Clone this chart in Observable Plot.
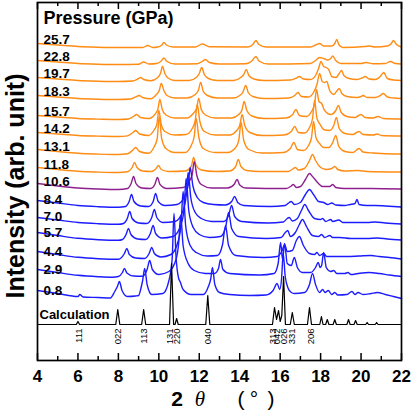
<!DOCTYPE html>
<html><head><meta charset="utf-8">
<script src="https://cdn.jsdelivr.net/npm/d3@7"></script>
<script src="https://cdn.jsdelivr.net/npm/@observablehq/plot@0.6"></script>
<style>body{margin:0;background:#fff}#chart{width:412px;height:412px}</style>
</head><body><div id="chart"></div>
<script>
// Pressures (GPa), top to bottom, and stacking offsets (arb. unit)
const pressures = ["25.7","22.8","19.7","18.3","15.7","14.2","13.1","11.8","10.6","8.4","7.0","5.7","4.4","2.9","0.8"];
const offsets   = [313, 296, 279, 261, 241, 224, 206, 188, 171, 153, 136, 120, 101, 83, 62];
const calcOffset = 36;

// Patterns: [2theta, intensity above baseline]
const p25_7 = [[4,4],[5,2.5],[6,1],[7,0.3],[8,0],[9.2,0],[9.45,2],[9.7,0],[9.95,0.5],[10.15,2.5],[10.25,5],[10.38,2.5],[10.7,0.5],[11.8,0.5],[12.15,3.5],[12.5,0.8],[14.4,0.5],[14.65,3],[14.8,7],[14.95,3],[15.3,0.5],[17.5,0.5],[17.8,3],[17.95,4],[18.15,1.5],[18.55,1.5],[18.7,4],[18.8,8],[18.9,3],[19.1,0],[20.2,1],[20.4,1.5],[20.7,0.5],[21.3,1.5],[21.5,4],[21.6,7],[21.75,3],[22,0.5]];
const p22_8 = [[4,4],[5,2.5],[6,1],[7,0.3],[8,0],[9.0,0.3],[9.25,2.5],[9.5,0.5],[9.9,1],[10.12,3.5],[10.25,6.5],[10.4,3],[10.8,0.5],[11.9,0.8],[12.15,3],[12.3,5],[12.5,2],[13,0.5],[14.3,0.8],[14.6,3.5],[14.8,8],[14.95,3.5],[15.4,0.5],[17.5,1],[17.75,4],[17.95,7],[18.15,6],[18.35,4.5],[18.5,6],[18.6,8.5],[18.75,4],[19.0,1],[20.0,1],[20.25,2],[20.6,0.8],[21.2,1],[21.45,3],[21.7,1],[22,0.5]];
const p19_7 = [[4,4],[5,2.5],[6,1],[7,0.3],[8,0],[8.7,0.5],[9.0,3],[9.1,4],[9.25,2],[9.6,0.8],[9.95,4],[10.08,8],[10.18,15],[10.3,8],[10.45,3.5],[10.8,1],[11.5,1],[11.85,4],[12.0,8],[12.12,14],[12.25,7],[12.45,3],[12.9,1],[13.7,1],[14.05,4],[14.2,7],[14.33,12],[14.45,6],[14.7,2.5],[15.2,1],[16.5,1.5],[16.8,3.5],[16.95,5],[17.15,2.5],[17.5,2],[17.75,6],[17.9,13],[18.02,20],[18.15,15],[18.28,14],[18.4,12],[18.55,5],[18.75,4],[18.92,8],[19.03,11],[19.15,6],[19.4,3],[19.8,2],[20.05,3.5],[20.2,5],[20.4,2.5],[20.7,2],[20.95,5],[21.12,9],[21.3,3],[21.6,1.5],[22,1]];
const p18_3 = [[4,4],[5,2.5],[6,1],[7,0.3],[8,0],[8.6,0.5],[8.9,3],[9.02,4],[9.2,2],[9.6,0.8],[9.88,5],[10.02,9],[10.12,16],[10.25,9],[10.4,4],[10.8,1.5],[11.4,1.5],[11.8,5],[11.95,9],[12.07,17],[12.2,8],[12.4,4],[12.9,1.5],[13.7,1.5],[14.0,4],[14.15,7],[14.3,14],[14.42,7],[14.65,3],[15.2,1],[16.4,1.5],[16.72,4],[16.88,7],[17.05,3],[17.4,2.5],[17.65,7],[17.82,15],[17.95,26],[18.08,18],[18.2,17],[18.3,18],[18.45,9],[18.65,5],[18.82,9],[18.92,11],[19.05,6],[19.3,3],[19.8,2],[20.0,3],[20.1,4],[20.3,2],[20.7,2],[20.95,4],[21.1,6],[21.3,2.5],[21.6,1.5],[22,1]];
const p15_7 = [[4,4],[5,2.5],[6,1],[7,0.4],[8,0],[8.5,0.5],[8.78,3.5],[8.9,5],[9.1,2],[9.5,1],[9.8,5],[9.95,10],[10.05,20],[10.17,10],[10.35,4.5],[10.8,1.5],[11.4,1.5],[11.7,6],[11.87,11],[11.97,21],[12.1,10],[12.3,4.5],[12.8,1.5],[13.6,1.5],[13.95,5],[14.1,9],[14.22,18],[14.35,9],[14.6,3.5],[15.2,1],[16.3,1.5],[16.62,5],[16.78,10],[16.95,4],[17.3,3],[17.55,8],[17.7,15],[17.8,30],[17.92,18],[18.05,16],[18.2,9],[18.5,5],[18.75,9],[18.88,14],[19.02,7],[19.3,3],[19.7,2],[19.88,4],[20.0,5],[20.2,2],[20.6,1.5],[20.85,3],[21.1,1],[22,0.5]];
const p14_2 = [[4,4],[5,2.5],[6,1],[7,0.4],[8,0],[8.45,0.6],[8.72,4],[8.85,6],[9.05,2.5],[9.5,1],[9.75,6],[9.9,12],[10.0,26],[10.12,12],[10.3,5],[10.8,1.5],[11.35,2],[11.65,8],[11.8,16],[11.9,32],[12.03,15],[12.25,5],[12.8,1.5],[13.5,1.5],[13.85,6],[14.0,11],[14.12,22],[14.25,11],[14.5,4],[15.1,1],[16.2,1.5],[16.55,5],[16.72,10],[16.9,4],[17.2,3.5],[17.45,9],[17.6,18],[17.7,36],[17.82,18],[17.98,12],[18.15,7],[18.45,6],[18.65,11],[18.78,19],[18.92,8],[19.2,3],[19.6,2],[19.78,4],[19.9,5],[20.1,2],[20.6,1.5],[20.8,2.5],[21.0,1],[22,0.5]];
const p13_1 = [[4,5],[5,3],[6,1.2],[7,0.4],[8,0],[8.45,0.7],[8.72,4.5],[8.85,7],[9.05,3],[9.5,1.2],[9.75,7],[9.92,16],[10.02,38],[10.14,16],[10.35,6],[10.8,2],[11.3,2],[11.6,9],[11.75,18],[11.85,36],[11.98,17],[12.2,6],[12.8,2],[13.4,2],[13.8,7],[13.95,14],[14.07,32],[14.2,14],[14.45,5],[15.1,1.5],[16.15,2],[16.5,6],[16.68,12],[16.85,5],[17.15,4],[17.4,9],[17.55,17],[17.65,33],[17.77,17],[17.95,11],[18.15,7],[18.4,7],[18.6,12],[18.75,19],[18.9,8],[19.2,3],[19.6,2],[19.78,4.5],[19.9,6],[20.1,2.5],[20.6,1.5],[21,1],[22,0.5]];
const p11_8 = [[4,5],[5,3],[6,1.2],[7,0.4],[8,0],[8.45,0.8],[8.68,5],[8.8,10],[8.92,5],[9.2,1.5],[9.6,1],[9.85,3.5],[9.98,7],[10.12,3],[10.5,1],[11.3,1.5],[11.6,6],[11.72,15],[11.85,7],[12.1,2.5],[12.8,1],[13.5,1.5],[13.8,6],[13.93,13],[14.06,6],[14.35,2],[15.0,1],[16.4,1],[16.62,3.5],[16.75,5],[16.9,2.5],[17.2,4],[17.45,12],[17.6,18],[17.75,12],[17.95,6],[18.25,3],[18.55,4],[18.7,6],[18.85,3],[19.2,1.5],[19.85,2],[20.3,1],[22,0.5]];
const p10_6 = [[4,6],[5,3.5],[6,1.5],[7,0.5],[8,0],[8.45,1],[8.63,6],[8.75,13],[8.87,6],[9.15,1.5],[9.6,1],[9.8,5],[9.93,12],[10.06,5],[10.4,1],[11.2,2],[11.5,8],[11.65,15],[11.75,28],[11.88,14],[12.1,5],[12.6,1.5],[13.4,1.5],[13.72,5],[13.87,10],[14.0,4.5],[14.3,1.5],[16.3,1],[16.55,3.5],[16.65,5],[16.8,2],[17.0,3],[17.25,10],[17.45,16],[17.6,13],[17.85,7],[18.1,3],[18.45,3],[18.6,5],[18.75,2],[19.2,1],[20.5,1],[22,0.5]];
const p8_4 = [[4,7],[5,4.5],[6,2],[7,0.8],[8,0.2],[8.35,1],[8.53,6],[8.65,13],[8.77,6],[9.1,1.5],[9.5,1],[9.72,6],[9.84,14],[9.97,6],[10.3,2],[10.9,3],[11.3,12],[11.45,22],[11.55,40],[11.68,22],[11.9,10],[12.2,5],[12.7,3],[13.3,2.5],[13.6,6],[13.75,11],[13.9,5],[14.2,2],[15.5,1],[16.25,2],[16.45,5],[16.55,6],[16.7,3],[17.0,5],[17.25,13],[17.45,18],[17.65,13],[17.9,6],[18.15,5],[18.35,3],[18.55,4.5],[18.75,2.5],[19.2,2],[19.45,3],[19.7,4],[19.8,8],[19.9,3],[20.3,2],[20.7,2],[21.2,1.5],[22,0.5]];
const p7_0 = [[4,7],[5,4.5],[6,2],[7,0.8],[8,0.2],[8.25,1],[8.44,6],[8.56,13],[8.68,6],[9.0,1.5],[9.4,1],[9.65,7],[9.78,15],[9.9,7],[10.2,2],[10.8,3],[11.2,14],[11.35,28],[11.45,52],[11.58,27],[11.8,12],[12.1,6],[12.6,3],[13.2,3],[13.45,9],[13.6,19],[13.75,8],[14.1,3],[15.4,1.5],[16.15,2.5],[16.35,6],[16.45,7],[16.6,3.5],[16.85,6],[17.05,14],[17.22,20],[17.4,14],[17.7,6],[18.0,5],[18.1,6],[18.25,3],[18.5,5],[18.6,3],[18.9,4.5],[19.1,2],[19.5,2],[20.3,2],[20.7,2.5],[21.2,1.5],[22,0.5]];
const p5_7 = [[4,8],[5,5],[6,2.2],[7,0.8],[8,0.2],[8.2,1],[8.38,6],[8.5,12],[8.62,6],[8.95,1.5],[9.35,1],[9.58,7],[9.72,15],[9.84,7],[10.15,2.5],[10.7,4],[11.1,16],[11.25,32],[11.35,62],[11.48,30],[11.7,13],[12.0,6],[12.5,3],[13.05,4],[13.3,13],[13.45,28],[13.6,12],[13.95,4],[15.3,2],[16.05,3],[16.25,8],[16.38,10],[16.5,4],[16.75,8],[16.95,16],[17.1,21],[17.3,14],[17.6,5],[17.9,4],[18.05,6],[18.2,3],[18.45,5],[18.6,3],[18.95,3],[19.5,2],[20.3,2],[20.8,2.5],[21.3,1.5],[22,0.5]];
const p4_4 = [[4,8],[5,5],[6,2.2],[7,0.8],[8,0.2],[8.1,1],[8.3,6],[8.42,11],[8.54,5],[8.85,1.5],[9.3,1],[9.52,6],[9.65,12],[9.78,6],[10.1,2.5],[10.6,5],[10.95,18],[11.1,35],[11.2,68],[11.33,33],[11.55,14],[11.85,7],[12.4,3.5],[12.9,4],[13.15,15],[13.3,34],[13.45,14],[13.8,4],[15.2,2],[15.85,3],[16.1,9],[16.22,15],[16.35,8],[16.6,9],[16.8,19],[16.95,23],[17.15,14],[17.45,6],[17.7,5],[17.82,7],[17.95,4],[18.15,6],[18.3,3],[18.7,3],[19.3,3],[19.9,3.5],[20.5,4],[20.9,3],[21.4,2],[22,0.5]];
const p2_9 = [[4,8],[5,5],[6,2.2],[7,0.8],[7.7,0.3],[8.0,1],[8.2,5],[8.3,9],[8.42,4.5],[8.75,1.5],[9.2,1.2],[9.42,8],[9.55,17],[9.68,8],[10.0,3],[10.5,6],[10.85,18],[10.98,34],[11.08,62],[11.2,32],[11.45,14],[11.75,7],[12.3,4],[12.75,4],[12.95,9],[13.05,18],[13.17,8],[13.5,4],[15.0,2.5],[15.7,4],[15.9,14],[16.02,35],[16.12,18],[16.22,34],[16.35,14],[16.55,12],[16.7,20],[16.85,10],[17.1,5],[17.5,5],[17.75,10],[17.88,15],[17.98,10],[18.05,12],[18.15,25],[18.28,10],[18.5,6],[18.65,7],[18.8,4],[19.2,4],[19.35,5],[19.5,3],[19.85,4],[20.4,5],[20.9,4],[21.4,2.5],[22,1]];
const p0_8 = [[4,8],[5,5],[6,2],[6.1,4],[6.25,1.5],[7,1],[7.6,0.5],[7.82,7],[7.95,12],[8.05,17],[8.18,8],[8.45,2],[8.85,2.5],[9.0,3],[9.1,9],[9.2,18],[9.3,30],[9.42,14],[9.65,4],[10.2,5],[10.5,18],[10.66,40],[10.75,85],[10.85,42],[10.98,20],[11.05,17],[11.2,9],[11.6,4],[12.2,4],[12.45,12],[12.57,20],[12.65,31],[12.77,14],[13.0,6],[13.5,4],[14.5,3],[15.3,3.5],[15.65,8],[15.85,15],[15.98,9],[16.07,20],[16.15,45],[16.25,22],[16.4,10],[16.55,6],[16.7,5],[17.2,6],[17.45,14],[17.6,25],[17.75,14],[17.95,6],[18.1,9],[18.22,6],[18.38,8],[18.55,4],[18.7,6],[18.85,3.5],[19.3,4],[19.55,7],[19.7,4],[19.85,6],[20.1,4],[20.5,5],[20.8,6],[21.2,4],[21.6,2],[22,0]];
const calc = [[4,0],[5.92,0],[6.0,3],[6.08,0],[7.87,0],[7.97,15],[8.07,0],[9.15,0],[9.25,15],[9.35,0],[10.53,0],[10.63,61],[10.73,0],[10.8,0],[10.88,6],[10.96,0],[12.32,0],[12.42,29],[12.52,0],[15.62,0],[15.72,17],[15.82,5],[15.92,14],[16.0,3],[16.08,9],[16.17,48],[16.26,0],[16.5,0],[16.6,12],[16.7,0],[17.35,0],[17.45,17],[17.55,0],[17.96,0],[18.04,8],[18.12,0],[18.25,0],[18.33,5],[18.41,0],[18.62,0],[18.7,5],[18.78,0],[19.3,0],[19.38,5],[19.46,0],[19.65,0],[19.73,4],[19.81,0],[20.23,0],[20.3,2],[20.37,0],[20.7,0],[20.77,2],[20.84,0],[22,0]];
const curves = [p25_7,p22_8,p19_7,p18_3,p15_7,p14_2,p13_1,p11_8,p10_6,p8_4,p7_0,p5_7,p4_4,p2_9,p0_8];

// Calculated reflections (hkl) and their 2theta
const hklLabels = ["111","022","113","131","220","040","313","042","026","331","206"];
const hklPos    = [6.03, 7.97, 9.25, 10.53, 10.9, 12.42, 15.62, 15.86, 16.2, 16.6, 17.5];

const majorTicks = [4,6,8,10,12,14,16,18,20,22];
const minorTicks = [5,7,9,11,13,15,17,19,21];

const ORANGE = "#ff8c14", PURPLE = "#8e1f8e", BLUE = "#1c1cff";
const colorOf = p => (+p > 11 ? ORANGE : (+p > 10 ? PURPLE : BLUE));
const FONT = "'Liberation Sans', Arial, sans-serif";

const lineMarks = curves.map((c, i) => Plot.line(c, {
  x: d => d[0], y: d => offsets[i] + d[1],
  stroke: colorOf(pressures[i]), strokeWidth: 1.4, curve: "monotone-x"
}));

const labelData = pressures.map((p, i) => ({p, y: offsets[i]}));
const hklData = hklLabels.map((h, i) => ({h, x: hklPos[i]}));

const plot = Plot.plot({
  width: 412, height: 412,
  marginLeft: 37, marginRight: 11, marginTop: 2, marginBottom: 52,
  style: {fontFamily: FONT, background: "#fff", color: "#000"},
  x: {domain: [4, 22]},
  y: {domain: [0, 358], axis: null},
  marks: [
    ...lineMarks,
    Plot.line(calc, {x: d => d[0], y: d => calcOffset + d[1], stroke: "#000", strokeWidth: 1.2}),
    Plot.text(labelData, {x: 4, y: "y", text: "p", dx: 6, dy: -4, textAnchor: "start", lineAnchor: "bottom", fontSize: 13.5, fontWeight: "bold", fill: "#000"}),
    Plot.text(["Pressure (GPa)"], {x: 4, y: 358, dx: 6, dy: 21, textAnchor: "start", lineAnchor: "bottom", fontSize: 18, fontWeight: "bold", fill: "#000"}),
    Plot.text(["Calculation"], {x: 4, y: calcOffset, dx: 2, dy: -6, textAnchor: "start", lineAnchor: "bottom", fontSize: 13, fontWeight: "bold", fill: "#000"}),
    Plot.text(hklData, {x: "x", y: calcOffset - 4, text: "h", rotate: -90, textAnchor: "end", fontSize: 9.5, fill: "#000"}),
    Plot.ruleX(majorTicks, {x: d => d, y1: 0, y2: 7, stroke: "#000", strokeWidth: 1.5}),
    Plot.ruleX(minorTicks, {x: d => d, y1: 0, y2: 4, stroke: "#000", strokeWidth: 1.5}),
    Plot.ruleX(majorTicks, {x: d => d, y1: 358, y2: 351, stroke: "#000", strokeWidth: 1.5}),
    Plot.ruleX(minorTicks, {x: d => d, y1: 358, y2: 354, stroke: "#000", strokeWidth: 1.5}),
    Plot.frame({stroke: "#000", strokeWidth: 1.7}),
    Plot.axisX({ticks: majorTicks, tickSize: 0, tickPadding: 9, fontSize: 17, fontWeight: "bold", tickFormat: d => String(d), label: null})
  ]
});

const svg = d3.select(plot);
svg.append("text")
  .attr("transform", "translate(24,186) rotate(-90)")
  .attr("text-anchor", "middle")
  .style("font-family", FONT).style("font-weight", "bold").style("font-size", "25px")
  .attr("fill", "#000")
  .text("Intensity (arb. unit)");
const xt = svg.append("g").attr("fill", "#000").style("font-size", "21px");
xt.append("text").attr("x", 177).attr("y", 406).style("font-family", FONT).style("font-weight", "bold").text("2");
xt.append("text").attr("x", 200).attr("y", 406).style("font-family", "'Liberation Serif', 'DejaVu Serif', serif").style("font-style", "italic").text("θ");
xt.append("text").attr("x", 241).attr("y", 406).style("font-family", FONT).text("(");
xt.append("text").attr("x", 254).attr("y", 406).style("font-family", FONT).text("°");
xt.append("text").attr("x", 271).attr("y", 406).style("font-family", FONT).text(")");

document.getElementById("chart").appendChild(plot);
</script>
</body></html>
